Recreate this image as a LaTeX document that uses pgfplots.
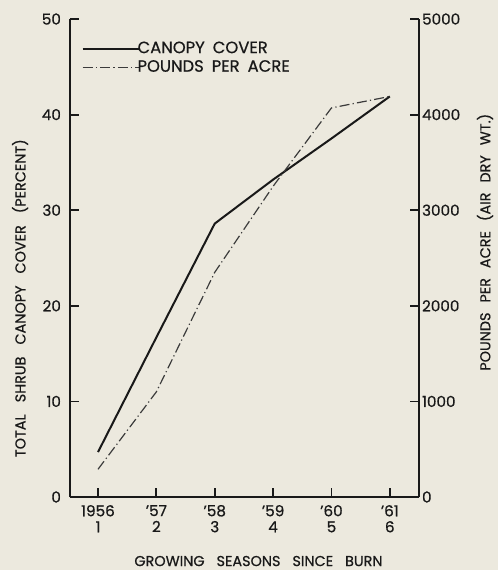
\documentclass[border=0pt]{standalone}
\usepackage{pgfplots}
\pgfplotsset{compat=1.18}
\usepackage{fontspec}
\setmainfont{Poppins}[FakeBold=0.6]
\usepackage{xcolor}
\definecolor{paper}{RGB}{236,233,222}
\definecolor{ink}{RGB}{25,25,25}
\pagecolor{paper}

\pgfplotsset{
  common/.style={
    scale only axis,
    width=174.5pt, height=239pt,
    xmin=0.52, xmax=6.5,
    tick align=inside,
    major tick length=4.5pt,
    axis line style={ink, line width=1pt},
    every tick/.style={ink, line width=0.9pt},
    tick label style={font=\fontsize{7.6}{8}\selectfont, text=ink},
    label style={font=\fontsize{7.2}{8}\selectfont, text=ink},
    /pgf/number format/assume math mode=true,
    /pgf/number format/1000 sep={},
  },
}

\begin{document}
\begin{tikzpicture}
\path[use as bounding box] (-35pt,-36.5pt) rectangle (214pt,248.5pt);
\begin{axis}[
    common,
    axis x line*=bottom,
    axis y line*=left,
    ymin=0, ymax=50,
    ytick={0,10,20,30,40,50},
    yticklabel style={xshift=-1pt},
    xtick={1,2,3,4,5,6},
    xticklabels={{1956\\1},{'57\\2},{'58\\3},{'59\\4},{'60\\5},{'61\\6}},
    xticklabel style={align=center, yshift=-0.5pt},
    xlabel={GROWING\hspace{6pt}SEASONS\hspace{6pt}SINCE\hspace{6pt}BURN},
    xlabel style={at={(axis description cs:0.54,-0.134)}, anchor=center},
    ylabel={TOTAL\hspace{6pt}SHRUB\hspace{6pt}CANOPY\hspace{6pt}COVER\hspace{6pt}(PERCENT)},
    ylabel style={at={(axis description cs:-0.143,0.416)}, anchor=center},
    legend style={at={(0.032,0.962)}, anchor=north west, draw=none, fill=none,
        font=\fontsize{8.2}{8.5}\selectfont, text=ink, row sep=-2pt,
        inner sep=0pt},
    legend cell align=left,
    legend image code/.code={\draw[#1] (0pt,0pt) -- (28pt,0pt);},
]
\addplot[ink, line width=1pt] coordinates {
    (1,4.7) (2,16.7) (3,28.6) (4,33.2) (5,37.5) (6,41.9)
};
\addlegendentry{\hspace{-3pt}CANOPY\hspace{4pt}COVER}
\addlegendimage{ink!85, line width=0.6pt, dash pattern=on 5pt off 1.6pt on 0.6pt off 1.6pt}
\addlegendentry{\hspace{-3pt}POUNDS\hspace{4pt}PER\hspace{4pt}ACRE}
\end{axis}

\begin{axis}[
    common,
    axis y line*=right,
    axis x line=none,
    ymin=0, ymax=5000,
    ytick={0,1000,2000,3000,4000,5000},
    yticklabel style={xshift=-2pt},
    ylabel={POUNDS\hspace{5pt}PER\hspace{5pt}ACRE\hspace{5pt}(AIR\hspace{5pt}DRY\hspace{5pt}WT.)},
    ylabel style={at={(axis description cs:1.189,0.533)}, anchor=center},
]
\addplot[ink!85, line width=0.6pt, dash pattern=on 5pt off 1.6pt on 0.6pt off 1.6pt] coordinates {
    (1,290) (2,1100) (3,2350) (4,3250) (5,4070) (6,4190)
};
\end{axis}
\end{tikzpicture}
\end{document}
